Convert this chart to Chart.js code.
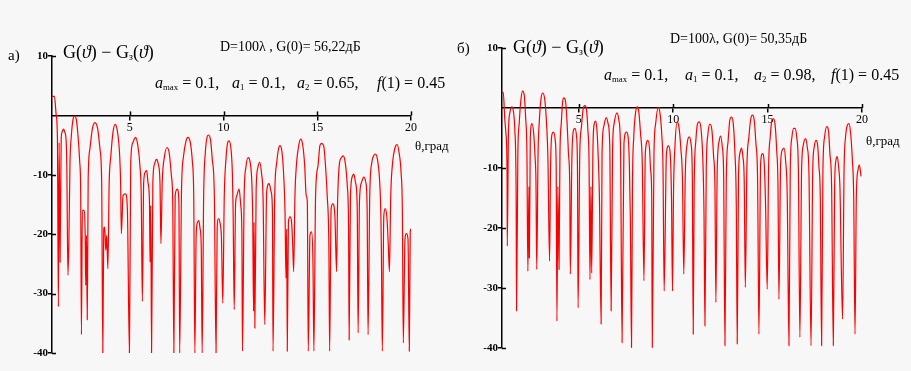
<!DOCTYPE html>
<html><head><meta charset="utf-8">
<script src="https://cdn.jsdelivr.net/npm/chart.js@4"></script>
<style>
html,body{margin:0;padding:0;background:#f7f7f7;width:911px;height:371px;overflow:hidden;font-family:'Liberation Serif','Times New Roman',serif;}
canvas{position:absolute;}
.t{position:absolute;white-space:nowrap;color:#000;line-height:1;}
.t i{font-style:italic;}
.t sub{font-size:55%;vertical-align:-0.25em;line-height:0;}
</style></head><body>
<canvas id="c1" width="455" height="371" style="left:0;top:0"></canvas>
<canvas id="c2" width="456" height="371" style="left:455px;top:0"></canvas>

<div class="t" style="left:8px;top:48px;font-size:15px">а)</div>
<div class="t" style="left:63px;top:43px;font-size:18px">G(<i>ϑ</i>) − G<sub>з</sub>(<i>ϑ</i>)</div>
<div class="t" style="left:220px;top:40px;font-size:14px">D=100λ , G(0)= 56,22дБ</div>
<div class="t" style="left:155px;top:75px;font-size:16px"><i>a</i><sub>max</sub> = 0.1,</div>
<div class="t" style="left:232px;top:75px;font-size:16px"><i>a</i><sub>1</sub> = 0.1,</div>
<div class="t" style="left:297px;top:75px;font-size:16px"><i>a</i><sub>2</sub> = 0.65,</div>
<div class="t" style="left:377px;top:75px;font-size:16px"><i>f</i>(1) = 0.45</div>
<div class="t" style="left:415px;top:139px;font-size:13px">θ,град</div>

<div class="t" style="left:457px;top:41px;font-size:15px">б)</div>
<div class="t" style="left:513px;top:38px;font-size:18px">G(<i>ϑ</i>) − G<sub>з</sub>(<i>ϑ</i>)</div>
<div class="t" style="left:670px;top:32px;font-size:14px">D=100λ, G(0)= 50,35дБ</div>
<div class="t" style="left:604px;top:67px;font-size:16px"><i>a</i><sub>max</sub> = 0.1,</div>
<div class="t" style="left:685px;top:67px;font-size:16px"><i>a</i><sub>1</sub> = 0.1,</div>
<div class="t" style="left:754px;top:67px;font-size:16px"><i>a</i><sub>2</sub> = 0.98,</div>
<div class="t" style="left:831px;top:67px;font-size:16px"><i>f</i>(1) = 0.45</div>
<div class="t" style="left:866px;top:134px;font-size:13px">θ,град</div>

<script>
const xTicks = [5, 10, 15, 20];
const yTicks = [10, -10, -20, -30, -40];

// panel а)
const thetaA = [0.85,0.98,1.07,1.14,1.19,1.23,1.28,1.34,1.39,1.46,1.53,1.61,1.64,1.70,1.75,1.81,1.88,1.97,2.06,2.15,2.24,2.33,2.38,2.42,2.47,2.55,2.62,2.65,2.69,2.73,2.78,2.87,3.00,3.14,3.29,3.41,3.50,3.56,3.61,3.66,3.72,3.77,3.83,3.90,3.99,4.10,4.22,4.35,4.46,4.51,4.55,4.64,4.77,4.87,4.98,5.05,5.16,5.31,5.43,5.54,5.61,5.67,5.74,5.83,5.90,5.97,6.05,6.08,6.12,6.16,6.23,6.32,6.41,6.52,6.61,6.66,6.73,6.84,6.99,7.11,7.22,7.29,7.35,7.42,7.53,7.62,7.66,7.76,7.87,8.00,8.10,8.23,8.34,8.41,8.47,8.54,8.61,8.68,8.75,8.81,8.86,8.94,9.03,9.12,9.19,9.30,9.40,9.51,9.60,9.66,9.73,9.82,9.89,9.96,10.04,10.13,10.22,10.29,10.40,
10.47,10.51,10.57,10.64,10.71,10.83,10.92,10.98,11.01,11.10,11.19,11.31,11.42,11.51,11.56,11.60,11.63,11.67,11.74,11.83,11.93,12.02,12.11,12.20,12.30,12.43,12.54,12.61,12.64,12.73,12.84,12.93,13.01,13.12,13.21,13.28,13.33,13.37,13.40,13.46,13.55,13.63,13.69,13.74,13.81,13.90,14.01,14.11,14.22,14.33,14.41,14.47,14.52,14.61,14.70,14.77,14.82,14.91,15.04,15.14,15.23,15.34,15.44,15.53,15.62,15.66,15.74,15.83,15.94,16.03,16.08,16.19,16.29,16.38,16.49,16.60,16.67,16.70,16.77,16.88,16.95,17.04,17.13,17.18,17.25,17.36,17.48,17.59,17.66,17.71,17.80,17.91,18.01,18.10,18.21,18.32,18.39,18.42,18.47,18.55,18.63,18.72,18.79,18.85,18.92,19.02,19.15,19.26,19.36,19.47,19.54,19.59,19.68,19.75,19.84,19.91,19.96,20.00];
const gainA = [3.2,3.2,0.2,-4.0,-32.2,-4.6,-24.7,-4.0,-2.8,-2.3,-2.8,-4.6,-8.5,-26.9,-21.3,-7.9,-3.5,-0.7,-0.1,-0.7,-3.5,-7.9,-12.9,-36.9,-16.0,-16.0,-20.2,-28.6,-20.2,-34.4,-10.7,-5.7,-2.3,-1.2,-2.3,-5.7,-11.3,-40,-19.1,-18.8,-22.7,-20.2,-25.8,-11.3,-6.8,-2.9,-1.5,-2.9,-6.8,-11.3,-19.9,-13.5,-13.2,-15.7,-40,-7.9,-4.6,-3.7,-5.1,-8.5,-13.5,-31.3,-11.3,-9.5,-9.3,-11.3,-14.6,-24.7,-15.2,-40,-11.3,-8.2,-7.4,-8.2,-11.3,-21.6,-11.3,-7.1,-5.4,-6.5,-10.2,-14.6,-40,-13.5,-12.4,-14.6,-40,-12.4,-6.8,-4.3,-3.7,-4.6,-7.9,-13.5,-40,-20.2,-18.0,-17.7,-19.1,-21.9,-40,-13.5,-6.2,-3.7,-3.3,-4.0,-7.4,-13.5,-40,-19.1,-17.4,-18.2,-20.8,-31.6,-13.5,-7.4,-4.6,-4.3,-5.7,
-9.6,-15.7,-32.7,-15.2,-13.5,-12.4,-15.2,-20.2,-39.7,-13.5,-8.8,-7.1,-7.9,-11.3,-18.0,-33.0,-18.0,-35.8,-12.4,-8.8,-7.9,-9.6,-14.1,-35.2,-12.9,-11.5,-12.9,-16.3,-39.7,-13.5,-7.9,-5.7,-5.1,-6.2,-10.2,-16.3,-27.4,-19.1,-39.7,-18.0,-17.1,-18.0,-21.9,-26.3,-13.5,-7.9,-5.1,-4.0,-4.9,-8.5,-13.5,-14.6,-39.7,-20.2,-19.6,-24.7,-39.7,-13.5,-8.5,-5.1,-4.7,-5.1,-8.5,-13.5,-22.4,-39.7,-15.7,-14.9,-16.9,-26.3,-15.2,-7.9,-7.1,-6.8,-7.9,-11.8,-19.1,-37.8,-13.5,-10.2,-9.9,-11.3,-15.2,-36.6,-14.6,-11.3,-10.4,-11.3,-15.7,-36.9,-13.5,-7.9,-6.8,-6.5,-7.4,-10.7,-16.3,-22.4,-39.7,-16.9,-15.7,-17.4,-21.9,-26.3,-13.5,-7.9,-5.4,-4.9,-6.2,-9.6,-16.3,-38.3,-20.8,-19.9,-20.8,-39.7,-19.6,-19.1];

// panel б)
const thetaB = [0.93,1.00,1.07,1.14,1.20,1.21,1.27,1.34,1.45,1.54,1.61,1.68,1.70,1.77,1.84,1.93,2.02,2.11,2.18,2.25,2.30,2.36,2.38,2.43,2.52,2.61,2.68,2.73,2.77,2.84,2.91,3.00,3.09,3.20,3.29,3.36,3.45,3.50,3.57,3.66,3.75,3.80,3.84,3.89,3.95,4.00,4.07,4.14,4.21,4.30,4.38,4.45,4.52,4.55,4.63,4.70,4.79,4.88,4.93,4.96,5.05,5.14,5.23,5.32,5.41,5.48,5.54,5.59,5.64,5.68,5.75,5.82,5.89,5.96,6.02,6.09,6.18,6.23,6.32,6.45,6.55,6.64,6.71,6.79,6.87,7.02,7.12,7.21,7.29,7.39,7.52,7.61,7.68,7.73,7.79,7.84,7.91,8.00,8.09,8.18,8.27,8.36,8.45,8.52,8.66,8.75,8.80,8.86,8.89,8.98,9.07,9.20,9.30,9.39,9.46,9.52,9.64,9.75,9.84,9.91,9.96,10.02,10.09,10.20,10.30,10.41,
10.49,10.56,10.64,10.74,10.85,10.94,11.01,11.06,11.11,11.20,11.29,11.38,11.48,11.57,11.63,11.68,11.75,11.84,11.94,12.05,12.14,12.21,12.26,12.33,12.44,12.51,12.60,12.67,12.74,12.81,12.91,13.00,13.09,13.18,13.27,13.34,13.39,13.46,13.55,13.62,13.69,13.76,13.82,13.90,14.01,14.10,14.19,14.29,14.38,14.47,14.54,14.63,14.73,14.82,14.89,14.98,15.05,15.14,15.23,15.30,15.39,15.48,15.55,15.60,15.69,15.78,15.87,15.95,16.04,16.13,16.20,16.29,16.38,16.45,16.54,16.63,16.71,16.80,16.89,17.01,17.10,17.19,17.30,17.39,17.47,17.56,17.65,17.72,17.79,17.86,17.93,18.02,18.13,18.22,18.30,18.39,18.48,18.55,18.62,18.69,18.76,18.83,18.97,19.05,19.13,19.22,19.31,19.40,19.49,19.56,19.63,19.70,19.79,19.86,19.95];
const gainB = [2.6,2.6,-1.5,-4.3,-11.4,-23.0,-4.3,-0.9,0.2,-0.7,-3.7,-15.0,-33.8,-7.6,-2.6,1.3,2.8,2.1,-1.5,-7.6,-27.2,-13.1,-25.0,-4.8,-2.6,-4.3,-8.1,-12.5,-26.9,-7.6,-2.0,1.6,2.5,1.3,-2.6,-8.1,-25.5,-10.3,-4.5,-4.0,-5.4,-9.8,-35.5,-13.1,-26.9,-7.6,-2.6,1.0,1.7,1.0,-2.6,-7.6,-13.1,-27.7,-8.7,-4.0,-3.4,-4.8,-10.9,-33.3,-7.6,-3.1,-0.1,0.4,-0.4,-3.7,-8.7,-28.6,-13.1,-27.5,-6.5,-2.6,-2.2,-3.7,-7.6,-14.7,-36.0,-7.6,-3.1,-1.6,-2.6,-6.5,-33.8,-6.5,-2.6,-0.8,-2.0,-7.0,-39.1,-5.9,-4.0,-4.8,-9.8,-18.6,-39.9,-13.1,-4.8,-0.9,0.2,-0.7,-4.3,-9.2,-28.8,-7.6,-5.4,-7.0,-10.3,-14.5,-39.9,-7.6,-2.6,0.1,-0.9,-4.3,-10.3,-30.5,-7.6,-6.3,-7.6,-15.3,-30.5,-13.1,-6.5,-2.3,-3.1,-7.0,
-12.0,-27.7,-10.9,-5.9,-4.8,-5.9,-10.9,-37.7,-13.1,-5.4,-2.6,-2.3,-3.7,-8.7,-17.5,-36.3,-10.3,-4.3,-2.7,-3.7,-8.1,-13.1,-32.4,-10.3,-5.4,-4.7,-6.5,-10.9,-39.6,-12.0,-5.4,-2.0,-1.5,-2.6,-7.6,-15.9,-39.3,-10.9,-7.3,-6.7,-8.1,-12.0,-29.9,-10.3,-4.8,-2.0,-1.2,-2.0,-5.9,-12.0,-37.7,-9.2,-7.6,-9.2,-15.9,-30.2,-10.3,-4.8,-2.0,-1.8,-2.6,-7.0,-13.1,-31.9,-9.2,-7.0,-6.7,-8.7,-14.7,-39.6,-10.3,-4.8,-3.4,-3.4,-4.8,-10.3,-38.2,-10.3,-6.2,-5.1,-6.5,-10.9,-39.6,-10.3,-6.5,-5.4,-6.2,-9.8,-14.7,-39.6,-10.3,-4.8,-3.1,-3.7,-7.6,-13.1,-39.6,-13.1,-8.7,-8.1,-9.8,-13.1,-35.2,-10.3,-4.8,-2.9,-2.6,-4.3,-8.7,-14.7,-37.7,-14.7,-10.3,-9.5,-11.4];

const crossTicks = {
  id: 'crossTicks',
  afterDraw(chart) {
    const {ctx, scales: {x, y}, chartArea} = chart;
    ctx.save();
    ctx.strokeStyle = '#000';
    ctx.lineWidth = 1.5;
    const y0 = y.getPixelForValue(0);
    xTicks.forEach(v => {
      const px = Math.round(x.getPixelForValue(v)) + 0.5;
      ctx.beginPath(); ctx.moveTo(px, y0 - 4); ctx.lineTo(px, y0); ctx.stroke();
    });
    yTicks.forEach(v => {
      const py = Math.round(y.getPixelForValue(v)) + 0.5;
      ctx.beginPath(); ctx.moveTo(chartArea.left, py); ctx.lineTo(chartArea.left + 4, py); ctx.stroke();
    });
    ctx.restore();
  }
};

function makeChart(id, th, g, xmin, pad) {
  return new Chart(document.getElementById(id), {
    type: 'line',
    data: { datasets: [{ data: th.map((t, i) => ({ x: t, y: g[i] })), borderColor: '#ff0000', borderWidth: 1.2, pointRadius: 0, cubicInterpolationMode: 'monotone', fill: false }] },
    options: {
      responsive: false, animation: false, devicePixelRatio: 1,
      layout: { padding: pad },
      plugins: { legend: { display: false }, tooltip: { enabled: false } },
      scales: {
        x: {
          type: 'linear', min: xmin, max: 20, position: { y: 0 },
          afterBuildTicks: s => { s.ticks = xTicks.map(v => ({ value: v })); },
          grid: { drawOnChartArea: false, drawTicks: true, tickLength: 4, color: '#000', lineWidth: 1.5 },
          border: { color: '#000', width: 1.5 },
          ticks: { font: { family: 'Liberation Serif', size: 12 }, color: '#000', padding: 1, maxRotation: 0, autoSkip: false }
        },
        y: {
          type: 'linear', min: -40, max: 10, position: 'left',
          afterBuildTicks: s => { s.ticks = yTicks.map(v => ({ value: v })); },
          afterFit: s => { s.width = 30; },
          grid: { drawOnChartArea: false, drawTicks: true, tickLength: 4, color: '#000', lineWidth: 1.5 },
          border: { color: '#000', width: 1.5 },
          ticks: { font: { family: 'Liberation Serif', size: 11, weight: 'bold' }, color: '#000', padding: 0 }
        }
      }
    },
    plugins: [crossTicks]
  });
}

makeChart('c1', thetaA, gainA, 0.85, { left: 22, right: 44, top: 56, bottom: 18 });
makeChart('c2', thetaB, gainB, 0.93, { left: 17, right: 49, top: 48, bottom: 23 });
</script>
</body></html>
